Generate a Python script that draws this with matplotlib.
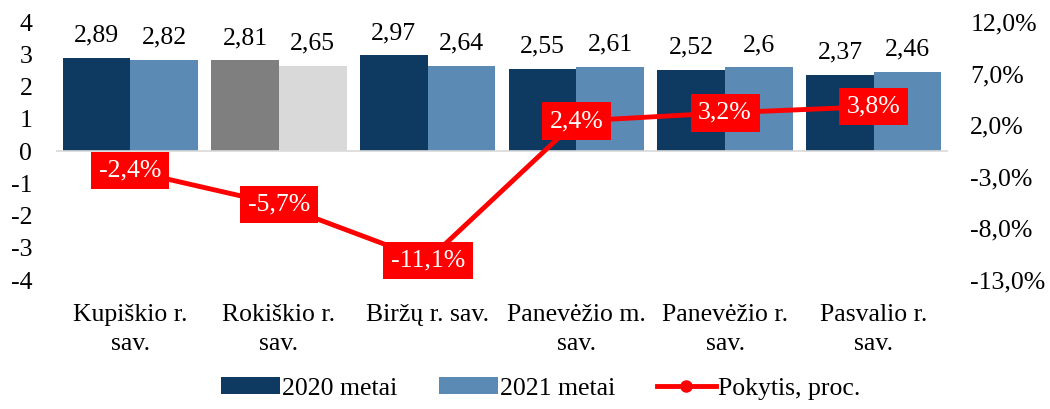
import matplotlib
matplotlib.use("Agg")
import matplotlib.pyplot as plt
import numpy as np

plt.rcParams["font.family"] = ["Liberation Serif", "DejaVu Serif"]
plt.rcParams["axes.unicode_minus"] = False

# savivaldybės
categories = ["Kupiškio r.\nsav.", "Rokiškio r.\nsav.", "Biržų r. sav.",
              "Panevėžio m.\nsav.", "Panevėžio r.\nsav.", "Pasvalio r.\nsav."]
values_2020 = [2.89, 2.81, 2.97, 2.55, 2.52, 2.37]
values_2021 = [2.82, 2.65, 2.64, 2.61, 2.60, 2.46]
labels_2020 = ["2,89", "2,81", "2,97", "2,55", "2,52", "2,37"]
labels_2021 = ["2,82", "2,65", "2,64", "2,61", "2,6", "2,46"]
change_pct = [-2.4, -5.7, -11.1, 2.4, 3.2, 3.8]
left_ticks = [-4, -3, -2, -1, 0, 1, 2, 3, 4]
right_ticks = [-13, -8, -3, 2, 7, 12]

FS = 18.5
dark = "#0e3960"
light = "#5b8ab4"
colors_2020 = [dark, "#7f7f7f", dark, dark, dark, dark]
colors_2021 = [light, "#d9d9d9", light, light, light, light]

fig = plt.figure(figsize=(10.5, 4.09), dpi=100)
ax = fig.add_axes([0.0533, 0.3154, 0.8497, 0.6308])

x = np.arange(len(categories))
w = 0.455
b1 = ax.bar(x - w / 2, values_2020, width=w, color=colors_2020, label="2020 metai")
b2 = ax.bar(x + w / 2, values_2021, width=w, color=colors_2021, label="2021 metai")
for rect, txt in zip(b1, labels_2020):
    ax.annotate(txt, (rect.get_x() + rect.get_width() / 2, rect.get_height()),
                xytext=(0, 8), textcoords="offset points", ha="center", va="bottom", fontsize=FS)
for rect, txt in zip(b2, labels_2021):
    ax.annotate(txt, (rect.get_x() + rect.get_width() / 2, rect.get_height()),
                xytext=(0, 8), textcoords="offset points", ha="center", va="bottom", fontsize=FS)

ax.set_xlim(-0.5, len(categories) - 0.5)
ax.set_ylim(-4, 4)
ax.set_yticks(left_ticks)
ax.set_yticklabels([str(t) for t in left_ticks])
ax.set_xticks(x)
ax.set_xticklabels(categories, linespacing=1.45)
ax.tick_params(axis="both", length=0, labelsize=FS)
ax.tick_params(axis="x", pad=17)
ax.tick_params(axis="y", pad=17)
for s in ax.spines.values():
    s.set_visible(False)
ax.axhline(0, color="#d9d9d9", lw=1.2, zorder=1)

ax2 = ax.twinx()
ax2.set_ylim(-13, 12)
ax2.set_yticks(right_ticks)
ax2.set_yticklabels([("%.1f%%" % t).replace(".", ",") for t in right_ticks])
ax2.tick_params(axis="y", length=0, labelsize=FS, pad=16)
for s in ax2.spines.values():
    s.set_visible(False)
line, = ax2.plot(x, change_pct, color="#ff0000", lw=3.5, marker="o", markersize=8,
                 label="Pokytis, proc.")
for xi, v in zip(x, change_pct):
    ax2.text(xi, v, ("%.1f%%" % v).replace(".", ","), color="white", fontsize=FS,
             ha="center", va="center",
             bbox=dict(boxstyle="square,pad=0.3", fc="#ff0000", ec="none"))

fig.legend([b1[0], b2[0], line], ["2020 metai", "2021 metai", "Pokytis, proc."],
           loc="center", bbox_to_anchor=(0.515, 0.05), ncol=3, frameon=False,
           fontsize=FS, handlelength=2.3, handleheight=0.6, handletextpad=0.1,
           columnspacing=1.6)

fig.savefig("out.png", dpi=100)
